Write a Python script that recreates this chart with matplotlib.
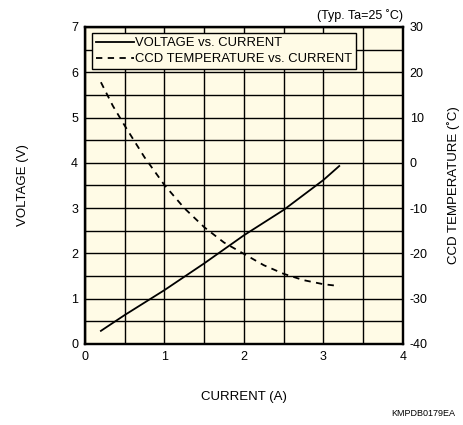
import numpy as np
import matplotlib.pyplot as plt

plt.rcParams['font.family'] = ['Liberation Sans', 'DejaVu Sans']
plt.rcParams['axes.unicode_minus'] = False

# voltage vs current
cur_v = [0.2, 0.5, 1.0, 1.5, 2.0, 2.5, 3.0, 3.2]
volt = [0.29, 0.64, 1.19, 1.78, 2.40, 2.96, 3.62, 3.93]

# ccd temperature vs current
cur_t = [0.2, 0.35, 0.5, 0.75, 1.0, 1.25, 1.5, 1.75, 2.0, 2.25, 2.5, 2.75, 3.0, 3.2]
temp = [17.8, 12.6, 8.2, 1.2, -4.9, -10.0, -14.2, -17.6, -20.1, -22.6, -24.5, -25.9, -26.8, -27.2]

bg = '#fffbe6'

fig = plt.figure(figsize=(4.63, 4.25), dpi=100)
ax = fig.add_axes([0.1836, 0.1906, 0.6864, 0.7459])
ax.set_facecolor(bg)

ax.plot(cur_v, volt, color='black', lw=1.3, label='VOLTAGE vs. CURRENT')
ax2 = ax.twinx()
ln2, = ax2.plot(cur_t, temp, color='black', lw=1.3, ls=(0, (3.5, 3)),
                label='CCD TEMPERATURE vs. CURRENT')

ax.set_xlim(0, 4)
ax.set_ylim(0, 7)
ax2.set_ylim(-40, 30)
ax.set_xticks(np.arange(0, 4.01, 1))
ax.set_xticks(np.arange(0, 4.01, 0.5), minor=True)
ax.set_yticks(np.arange(0, 7.01, 1))
ax.set_yticks(np.arange(0, 7.01, 0.5), minor=True)
ax2.set_yticks(np.arange(-40, 31, 10))
ax.grid(True, which='both', color='black', lw=1.0)
ax.tick_params(which='both', length=0, labelsize=9, pad=5)
ax2.tick_params(which='both', length=0, labelsize=9, pad=5)
for a in (ax, ax2):
    for s in a.spines.values():
        s.set_linewidth(1.6)

ax.set_xlabel('CURRENT (A)', fontsize=9.5, labelpad=20)
ax.set_ylabel('VOLTAGE (V)', fontsize=9.5, labelpad=30)
ax2.set_ylabel('CCD TEMPERATURE (˚C)', fontsize=9.5, labelpad=14)

h1, l1 = ax.get_legend_handles_labels()
leg = ax2.legend(h1 + [ln2], l1 + [ln2.get_label()], loc='upper left',
                 bbox_to_anchor=(0.022, 0.98), fontsize=9.4, handlelength=2.9,
                 handletextpad=0.1, borderpad=0.3, labelspacing=0.3,
                 fancybox=False, framealpha=1, borderaxespad=0)
leg.get_frame().set_facecolor(bg)
leg.get_frame().set_edgecolor('black')
leg.get_frame().set_linewidth(1.0)

fig.text(0.870, 0.948, '(Typ. Ta=25 ˚C)', ha='right', va='bottom', fontsize=9)
fig.text(0.846, 0.0165, 'KMPDB0179EA', ha='left', va='bottom', fontsize=6.5)

fig.savefig('out.png', dpi=100)
